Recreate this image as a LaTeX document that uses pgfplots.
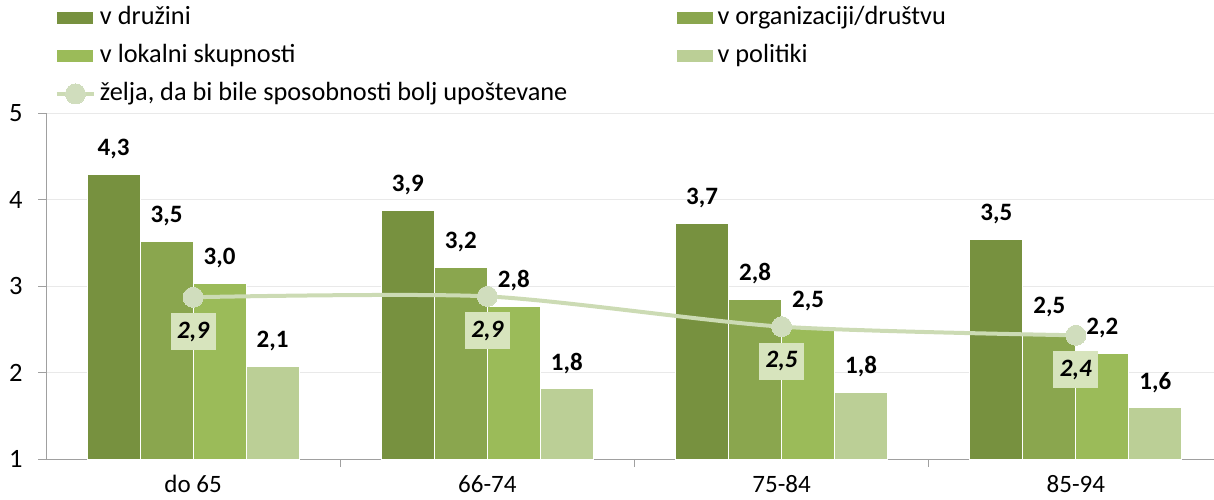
\documentclass[border=0pt]{standalone}
\usepackage{fontspec}
\setmainfont{Carlito}
\usepackage{pgfplots}
\pgfplotsset{compat=1.18}
\definecolor{cA}{HTML}{77913F}
\definecolor{cB}{HTML}{8AA64E}
\definecolor{cC}{HTML}{9BBB59}
\definecolor{cD}{HTML}{BBCF96}
\definecolor{cLine}{HTML}{CCDBB4}
\definecolor{cMark}{HTML}{D0DDBD}
\definecolor{cBox}{HTML}{D7E4BD}
\definecolor{cGrid}{HTML}{E9E9E9}
\definecolor{cAxis}{HTML}{A0A0A0}
\pgfplotsset{
  lineleg/.style={legend image code/.code={\draw[##1, mark=none] (0pt,0pt) -- (37pt,0pt); \draw[##1] plot coordinates {(18.5pt,0pt)};}},
  barleg/.style={legend image code/.code={\fill[##1] (0pt,-6.5pt) rectangle (37pt,6.5pt);}},
}
\begin{document}
\begin{tikzpicture}
\begin{axis}[
  at={(0pt,0pt)}, anchor=south west,
  scale only axis, width=1177pt, height=346pt,
  xmin=-0.5, xmax=3.5, ymin=1, ymax=5,
  axis x line*=bottom, axis y line*=left,
  axis line style={cAxis, line width=1pt},
  xtick={0,1,2,3},
  xticklabels={do 65,66-74,75-84,85-94},
  major x tick style={draw=none},
  minor xtick={0.5,1.5,2.5},
  minor tick length=8pt,
  ytick={1,2,3,4,5},
  yticklabels={1,2,3,4,5},
  major tick length=8pt,
  tick align=outside,
  tick style={cAxis, line width=1pt},
  ymajorgrids, grid style={cGrid, line width=1pt},
  xticklabel style={font=\fontsize{25}{29}\selectfont, yshift=-5pt},
  yticklabel style={font=\fontsize{26.5}{30}\selectfont, xshift=-12pt},
  /pgf/number format/assume math mode=true,
  ybar, bar width=53pt,
  /pgf/number format/use comma,
  /pgf/number format/fixed,
  /pgf/number format/fixed zerofill,
  /pgf/number format/precision=1,
  legend columns=2,
  legend cell align=left,
  legend style={at={(axis description cs:0.0076,1.309)}, anchor=north west,
    draw=none, fill=none, inner sep=0pt, outer sep=0pt,
    font=\fontsize{26.3}{31}\selectfont,
    nodes={inner xsep=4pt, inner ysep=0pt, text height=18.5pt, text depth=6pt},
    row sep=13.3pt,
    /tikz/every even column/.append style={column sep=104pt}},
  barleg,
  nodes near coords,
  every node near coord/.append style={font=\bfseries\fontsize{25}{30}\selectfont, anchor=south, inner sep=0pt, yshift=15pt, text=black},
]
\addplot[fill=cA, draw=white, line width=1pt, bar shift=-79.5pt] coordinates {(0,4.29) (1,3.87) (2,3.72) (3,3.54)};
\addlegendentry{v družini}
\addplot[fill=cB, draw=white, line width=1pt, bar shift=-26.5pt] coordinates {(0,3.52) (1,3.21) (2,2.84) (3,2.46)};
\addlegendentry{v organizaciji/društvu}
\addplot[fill=cC, draw=white, line width=1pt, bar shift=26.5pt] coordinates {(0,3.03) (1,2.76) (2,2.53) (3,2.22)};
\addlegendentry{v lokalni skupnosti}
\addplot[fill=cD, draw=white, line width=1pt, bar shift=79.5pt] coordinates {(0,2.07) (1,1.81) (2,1.77) (3,1.59)};
\addlegendentry{v politiki}
\addplot[sharp plot, smooth, tension=0.45, draw=cLine, line width=4pt, bar shift=0pt,
  mark=*, mark size=10pt, mark options={fill=cMark, draw=cMark, line width=0pt},
  every node near coord/.style={font=\bfseries\itshape\fontsize{25}{30}\selectfont, anchor=north, fill=cBox, text=black, inner sep=0pt, minimum width=45pt, minimum height=37pt, yshift=-16pt},
  lineleg
] coordinates {(0,2.87) (1,2.88) (2,2.53) (3,2.43)};
\addlegendentry{želja, da bi bile sposobnosti bolj upoštevane}
\end{axis}
\pgfresetboundingbox
\useasboundingbox (-46pt,-40pt) rectangle (1168pt,459pt);
\end{tikzpicture}
\end{document}
